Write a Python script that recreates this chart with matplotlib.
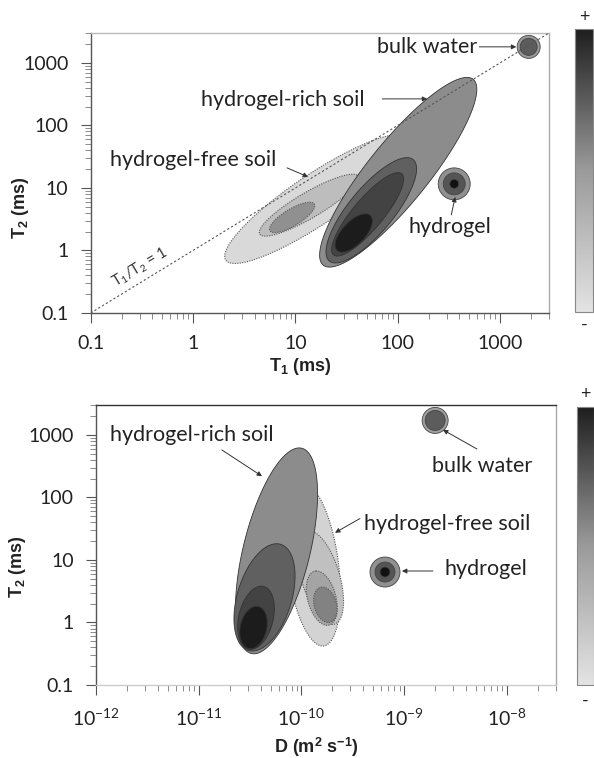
import numpy as np
import matplotlib
matplotlib.use("Agg")
import matplotlib.pyplot as plt
from matplotlib.colors import LinearSegmentedColormap
from matplotlib.cm import ScalarMappable
from matplotlib.ticker import LogLocator, NullFormatter

plt.rcParams['font.family'] = ['Lato', 'DejaVu Sans']
plt.rcParams['mathtext.fontset'] = 'custom'
plt.rcParams['mathtext.rm'] = 'Lato'
plt.rcParams['mathtext.it'] = 'Lato:italic'
plt.rcParams['mathtext.bf'] = 'Liberation Sans:bold'

# ---- T1-T2 map (ms): contour ellipses given by their two tips and half-width (decades)
rich_t1_lo = [20, 23, 24.5, 27]
rich_t2_lo = [0.55, 0.64, 0.82, 0.95]
rich_t1_hi = [510, 132, 105, 51]
rich_t2_hi = [575, 30, 17.4, 3.8]
rich_w = [0.34, 0.25, 0.17, 0.13]

free_t1_lo = [2.2, 4.6, 5.8]
free_t2_lo = [0.65, 1.75, 1.98]
free_t1_hi = [118, 40, 14.9]
free_t2_hi = [68, 16, 5.75]
free_w = [0.32, 0.17, 0.11]

gel_t1, gel_t2 = 356, 11.6
water_t1, water_t2 = 1900, 1800

# ---- D-T2 map (D in m2/s, T2 in ms)
rich_d_lo = [3.37e-11, 3.23e-11, 3.15e-11, 3.15e-11]
rich_t2b_lo = [0.316, 0.35, 0.37, 0.38]
rich_d_hi = [9.7e-11, 5.9e-11, 4.13e-11, 3.69e-11]
rich_t2b_hi = [617, 18.1, 3.8, 1.81]
rich_wb = [0.33, 0.27, 0.17, 0.13]

free_d_lo = [1.62e-10, 2.03e-10, 1.8e-10, 1.85e-10]
free_t2b_lo = [0.42, 0.93, 0.9, 1.0]
free_d_hi = [1.03e-10, 1.16e-10, 1.38e-10, 1.58e-10]
free_t2b_hi = [168, 29.4, 6.65, 3.67]
free_wb = [0.25, 0.19, 0.14, 0.11]

gel_d, gel_t2b = 6.5e-10, 6.4
water_d, water_t2b = 2.0e-9, 1700

t2_ticks = [0.1, 1, 10, 100, 1000]
t2_labels = ['0.1', '1', '10', '100', '1000']
t1_ticks = [0.1, 1, 10, 100, 1000]
t1_labels = ['0.1', '1', '10', '100', '1000']
d_ticks = [1e-12, 1e-11, 1e-10, 1e-9, 1e-8]
d_labels = ['$10^{-12}$', '$10^{-11}$', '$10^{-10}$', '$10^{-9}$', '$10^{-8}$']

rich_colors = ['#8c8c8c', '#606060', '#434343', '#1c1c1c']
free_colors_top = ['#d9d9d9', '#bdbdbd', '#909090']
free_colors_bot = ['#d3d3d3', '#c0c0c0', '#a4a4a4', '#828282']


def log_ellipse(ax, lo, hi, w, **kw):
    """Ellipse in log-log space between two tips, with half-width w decades."""
    l1 = np.log10(lo)
    l2 = np.log10(hi)
    c = (l1 + l2) / 2
    d = (l2 - l1) / 2
    u = d / np.hypot(*d)
    v = np.array([-u[1], u[0]]) * w
    t = np.linspace(0, 2 * np.pi, 300)
    px = c[0] + d[0] * np.cos(t) + v[0] * np.sin(t)
    py = c[1] + d[1] * np.cos(t) + v[1] * np.sin(t)
    ax.fill(10 ** px, 10 ** py, **kw)


def style_axes(ax, xlim, ylim, xt, xl, yt, yl, top_dark):
    ax.set_xscale('log')
    ax.set_yscale('log')
    ax.set_xlim(*xlim)
    ax.set_ylim(*ylim)
    ax.set_xticks(xt, xl)
    ax.set_yticks(yt, yl)
    ax.xaxis.set_minor_locator(LogLocator(base=10, subs=np.arange(2, 10), numticks=20))
    ax.yaxis.set_minor_locator(LogLocator(base=10, subs=np.arange(2, 10), numticks=20))
    ax.xaxis.set_minor_formatter(NullFormatter())
    ax.yaxis.set_minor_formatter(NullFormatter())
    ax.tick_params(which='major', direction='out', length=7, width=0.8,
                   color='#555555', labelsize=14, labelcolor='#222222')
    ax.tick_params(axis='x', which='major', pad=9)
    ax.tick_params(axis='y', which='major', pad=9)
    ax.tick_params(which='minor', direction='out', length=4, width=0.6, color='#777777')
    ax.spines['left'].set_color('#555555')
    ax.spines['bottom'].set_color('#555555' if not top_dark else '#cccccc')
    ax.spines['top'].set_color('#bbbbbb' if not top_dark else '#333333')
    ax.spines['right'].set_color('#aaaaaa')
    for s in ax.spines.values():
        s.set_linewidth(1.0)


def arrow(ax, tail, head):
    ax.annotate('', xy=head, xytext=tail,
                arrowprops=dict(arrowstyle='-|>', color='#333333', lw=0.7,
                                mutation_scale=7, shrinkA=0, shrinkB=0), zorder=6)


fig = plt.figure(figsize=(5.94, 7.58), dpi=100)
label_kw = dict(fontsize=15.5, color='#222222')

# ---------------- T1-T2 panel ----------------
ax1 = fig.add_axes([0.1527, 0.5871, 0.7715, 0.3694])
style_axes(ax1, (0.1, 3000), (0.1, 3000), t1_ticks, t1_labels, t2_ticks, t2_labels, False)

for i in range(len(free_w)):
    log_ellipse(ax1, (free_t1_lo[i], free_t2_lo[i]), (free_t1_hi[i], free_t2_hi[i]), free_w[i],
                facecolor=free_colors_top[i], edgecolor='#555555', lw=0.8, ls=(0, (1, 1.2)), zorder=2)
for i in range(len(rich_w)):
    log_ellipse(ax1, (rich_t1_lo[i], rich_t2_lo[i]), (rich_t1_hi[i], rich_t2_hi[i]), rich_w[i],
                facecolor=rich_colors[i], edgecolor='#333333', lw=0.6, zorder=3)

ax1.scatter([gel_t1] * 3, [gel_t2] * 3, s=[530, 250, 42], c=['#909090', '#555555', '#111111'],
            edgecolors='#444444', linewidths=0.6, zorder=4)
ax1.scatter([water_t1] * 2, [water_t2] * 2, s=[275, 150], c=['#9a9a9a', '#5c5c5c'],
            edgecolors='#444444', linewidths=0.6, zorder=4)

ax1.plot([0.1, 3000], [0.1, 3000], color='#555555', lw=0.8, ls=(0, (2, 2)), zorder=5)
ax1.text(0.303, 0.54, '$\\mathrm{T_1/T_2}$ = 1', rotation=31, fontsize=10.5,
         ha='center', va='center', color='#333333')

ax1.text(194, 1800, 'bulk water', ha='center', va='center', **label_kw)
arrow(ax1, (625, 1800), (1439, 1800))
ax1.text(7.57, 256, 'hydrogel-rich soil', ha='center', va='center', **label_kw)
arrow(ax1, (70.5, 265), (194, 265))
ax1.text(1.0, 28, 'hydrogel-free soil', ha='center', va='center', **label_kw)
arrow(ax1, (8.28, 20.9), (13.3, 15))
ax1.text(325, 2.38, 'hydrogel', ha='center', va='center', **label_kw)
arrow(ax1, (333, 3.7), (364, 7.18))

fig.text(0.505, 0.517, '$\\mathbf{T_1}$ (ms)', ha='center', va='center',
         fontsize=13, fontweight='bold', family='Liberation Sans', color='#222222')
fig.text(0.034, 0.726, '$\\mathbf{T_2}$ (ms)', ha='center', va='center', rotation=90,
         fontsize=13, fontweight='bold', family='Liberation Sans', color='#222222')

# ---------------- D-T2 panel ----------------
ax2 = fig.add_axes([0.1616, 0.0963, 0.7744, 0.3694])
style_axes(ax2, (1e-12, 3e-8), (0.1, 3000), d_ticks, d_labels, t2_ticks, t2_labels, True)

for i in range(len(free_wb)):
    log_ellipse(ax2, (free_d_lo[i], free_t2b_lo[i]), (free_d_hi[i], free_t2b_hi[i]), free_wb[i],
                facecolor=free_colors_bot[i], edgecolor='#555555', lw=0.8, ls=(0, (1, 1.2)), zorder=2)
for i in range(len(rich_wb)):
    log_ellipse(ax2, (rich_d_lo[i], rich_t2b_lo[i]), (rich_d_hi[i], rich_t2b_hi[i]), rich_wb[i],
                facecolor=rich_colors[i], edgecolor='#333333', lw=0.6, zorder=3)

ax2.scatter([gel_d] * 3, [gel_t2b] * 3, s=[467, 207, 52], c=['#909090', '#555555', '#111111'],
            edgecolors='#444444', linewidths=0.6, zorder=4)
ax2.scatter([water_d] * 2, [water_t2b] * 2, s=[350, 207], c=['#a0a0a0', '#5c5c5c'],
            edgecolors='#444444', linewidths=0.6, zorder=4)

ax2.text(8.6e-12, 1000, 'hydrogel-rich soil', ha='center', va='center', **label_kw)
arrow(ax2, (1.68e-11, 573), (4.13e-11, 218))
ax2.text(5.7e-9, 316, 'bulk water', ha='center', va='center', **label_kw)
arrow(ax2, (5.1e-9, 594), (2.38e-9, 1205))
ax2.text(2.6e-9, 38, 'hydrogel-free soil', ha='center', va='center', **label_kw)
arrow(ax2, (3.7e-10, 45.8), (2.12e-10, 27.2))
ax2.text(6.25e-9, 7.16, 'hydrogel', ha='center', va='center', **label_kw)
arrow(ax2, (1.9e-9, 6.65), (9.5e-10, 6.65))

fig.text(0.532, 0.0145, 'D (m$^\\mathbf{2}$ s$^\\mathbf{-1}$)', ha='center', va='center',
         fontsize=13, fontweight='bold', family='Liberation Sans', color='#222222')
fig.text(0.029, 0.253, '$\\mathbf{T_2}$ (ms)', ha='center', va='center', rotation=90,
         fontsize=13, fontweight='bold', family='Liberation Sans', color='#222222')

# ---------------- intensity colour bars ----------------
cmap = LinearSegmentedColormap.from_list('intensity', ['#e3e3e3', '#9a9a9a', '#1e1e1e'])
for rect, plus_y, minus_y in [([0.968, 0.5884, 0.0303, 0.3733], 0.978, 0.571),
                              ([0.9714, 0.0963, 0.0286, 0.3667], 0.48, 0.076)]:
    cax = fig.add_axes(rect)
    cb = fig.colorbar(ScalarMappable(cmap=cmap), cax=cax)
    cb.set_ticks([])
    cb.outline.set_edgecolor('#888888')
    cb.outline.set_linewidth(0.8)
    xc = rect[0] + rect[2] / 2
    fig.text(xc, plus_y, '+', ha='center', va='center', fontsize=13, color='#222222')
    fig.text(xc, minus_y, '-', ha='center', va='center', fontsize=13, color='#222222')

fig.savefig('out.png', dpi=100)
